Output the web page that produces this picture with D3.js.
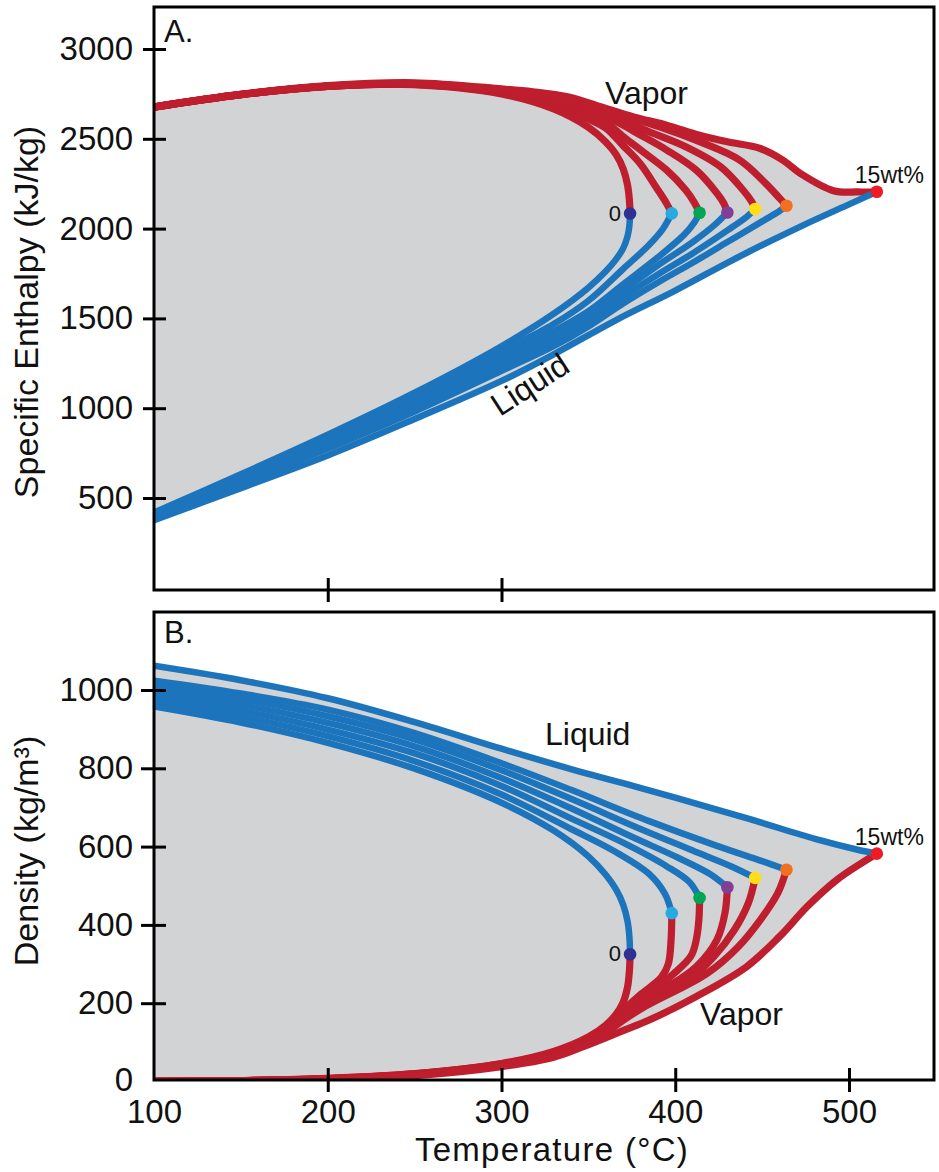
<!DOCTYPE html>
<html>
<head>
<meta charset="utf-8">
<script src="https://cdn.jsdelivr.net/npm/d3@7"></script>
<style>
  body { margin: 0; background: #fff; }
  svg text { font-family: "Liberation Sans", Arial, Helvetica, sans-serif; fill: #111; }
</style>
</head>
<body>
<script>
// isopleths, wt% salt (only 0 and 15 are labelled in the figure)
const salinity = [0, 2, 4, 6, 8, 10, 15];
const critT   = [374, 398, 414, 430, 446, 464, 516];
const critH   = [2084, 2085, 2088, 2090, 2109, 2127, 2205];
const critRho = [325, 430, 469, 496, 520, 541, 582];

// enthalpy of the liquid branch, [T degC, kJ/kg]
const hLiquid = [
  [[100,419],[150,632],[200,852],[250,1086],[300,1345],[330,1526],[350,1671],[360,1762],[366,1830],[370,1890],[372.5,1955],[373.6,2015]],
  [[100,412],[150,620],[200,835],[250,1065],[300,1315],[330,1468],[350,1598],[370,1775],[385,1910],[393,2000]],
  [[100,405],[150,609],[200,818],[250,1045],[300,1288],[330,1428],[350,1540],[370,1690],[390,1840],[405,1965],[411,2035]],
  [[100,398],[150,598],[200,802],[250,1025],[300,1262],[330,1398],[350,1505],[370,1655],[390,1795],[410,1925],[422,2015]],
  [[100,392],[150,588],[200,788],[250,1005],[300,1238],[330,1372],[350,1478],[370,1620],[390,1745],[410,1862],[430,1990],[441,2065]],
  [[100,386],[150,578],[200,775],[250,982],[300,1208],[330,1345],[350,1455],[370,1583],[390,1700],[410,1810],[430,1925],[450,2040],[460,2098]],
  [[100,376],[150,555],[200,737],[250,940],[300,1152],[330,1300],[366,1491],[400,1655],[433,1825],[472,2011],[500,2135]]
];

// enthalpy of the vapor branch
const hVapor = [
  [[100,2676],[150,2746],[200,2792],[250,2801],[300,2749],[330,2666],[350,2564],[360,2482],[366,2412],[370,2333],[372.5,2245],[373.6,2160]],
  [[100,2676],[150,2746],[200,2792],[250,2803],[300,2755],[330,2685],[350,2610],[360,2560],[370,2462],[380,2360],[389,2230],[395,2140]],
  [[100,2676],[150,2746],[200,2792],[250,2805],[300,2760],[330,2697],[350,2635],[360,2592],[370,2512],[380,2438],[395,2326],[406,2215],[411,2145]],
  [[100,2676],[150,2746],[200,2793],[250,2806],[300,2764],[330,2707],[350,2655],[365,2600],[380,2521],[395,2438],[412,2326],[424,2197],[428,2140]],
  [[100,2677],[150,2747],[200,2793],[250,2807],[300,2767],[330,2715],[350,2670],[370,2600],[385,2539],[406,2456],[426,2345],[439,2215],[444,2150]],
  [[100,2677],[150,2747],[200,2794],[250,2808],[300,2770],[330,2722],[350,2685],[370,2628],[391,2567],[414,2484],[437,2382],[452,2252],[460,2170]],
  [[100,2678],[150,2748],[200,2796],[250,2812],[300,2778],[318,2762],[338,2734],[357,2679],[376,2622],[395,2576],[414,2520],[430,2483],[449,2446],[462,2381],[472,2307],[491,2211],[505,2204]]
];

// density of the liquid branch, [T degC, kg/m3]
const rhoLiquid = [
  [[100,958],[150,917],[200,865],[250,799],[300,712],[330,641],[350,575],[360,528],[366,490],[370,452],[372.5,410],[373.6,370]],
  [[100,971],[150,932],[200,882],[250,818],[300,733],[340,645],[365,588],[385,530],[394,480]],
  [[100,984],[150,947],[200,899],[250,838],[300,755],[340,672],[370,610],[395,550],[408,510]],
  [[100,997],[150,962],[200,916],[250,856],[300,775],[340,698],[375,625],[400,575],[420,530]],
  [[100,1010],[150,977],[200,933],[250,874],[300,795],[340,722],[380,645],[410,590],[432,550]],
  [[100,1024],[150,991],[200,950],[250,890],[300,813],[340,745],[385,665],[424,602],[450,563]],
  [[100,1062],[150,1025],[200,979],[250,918],[300,850],[340,798],[370,762],[400,725],[443,670],[481,619],[505,592]]
];

// density of the vapor branch
const rhoVapor = [
  [[100,0.6],[150,2.5],[200,7.9],[250,20],[300,46],[330,77],[350,114],[360,144],[366,172],[370,202],[372.5,240],[373.6,282]],
  [[100,0.6],[150,2.4],[200,7.6],[250,19.5],[300,45],[330,75],[350,110],[365,156],[372,190],[380,222],[392,266],[396,300],[397.6,362]],
  [[100,0.55],[150,2.3],[200,7.3],[250,19],[300,44],[330,73],[350,107],[370,175],[384,222],[399,275],[409,320],[412,360],[413.6,413]],
  [[100,0.5],[150,2.2],[200,7],[250,18.5],[300,43],[330,71],[350,104],[372,180],[395,240],[412,293],[424,362],[428.6,430]],
  [[100,0.5],[150,2.1],[200,6.7],[250,18],[300,42],[330,69],[350,102],[375,180],[407,257],[422,318],[434,387],[442,455]],
  [[100,0.45],[150,2],[200,6.4],[250,17],[300,41],[330,67],[350,99],[380,185],[418,275],[436,343],[449,413],[459,481]],
  [[100,0.4],[150,1.7],[200,5.5],[250,15],[300,38],[330,62],[347,89],[370,130],[385,157],[412,217],[441,293],[460,370],[476,447],[493,515],[508,560]]
];

const xTicks = [100, 200, 300, 400, 500];
const yTicksA = [500, 1000, 1500, 2000, 2500, 3000];
const yTicksB = [0, 200, 400, 600, 800, 1000];

const dotColors = ["#2e3192", "#27aae1", "#00a651", "#7f3f98", "#ffde17", "#f37021", "#ed1c24"];
const RED = "#be1e2d", BLUE = "#1c75bc", GRAY = "#d1d3d4";

const W = 939, H = 1172;
const left = 154, right = 934;

const svg = d3.select("body").append("svg")
    .attr("width", W)
    .attr("height", H);

const x = d3.scaleLinear().domain([100, 500]).range([154, 849]);
const yA = d3.scaleLinear().domain([500, 3000]).range([498, 49]);
const yB = d3.scaleLinear().domain([0, 1000]).range([1081.5, 690]);

function drawPanel(opts) {
  const { y, top, bottom, liq, vap, crit, id, letter, letterY } = opts;

  svg.append("clipPath").attr("id", id)
    .append("rect")
    .attr("x", left).attr("y", top)
    .attr("width", right - left).attr("height", bottom - top);

  const g = svg.append("g").attr("clip-path", `url(#${id})`);

  const line = d3.line()
      .x(d => x(d[0]))
      .y(d => y(d[1]))
      .curve(d3.curveCatmullRom.alpha(0.5));

  const withCrit = (pts, i) => pts.concat([[critT[i], crit[i]]]);
  const last = salinity.length - 1;

  // gray two-phase envelope of the 15 wt% isopleth
  const upper = withCrit(vap[last], last);
  const lower = withCrit(liq[last], last).slice().reverse();
  const fillPath = line(upper) + "L" + line(lower).slice(1) + "Z";
  g.append("path")
    .attr("d", fillPath)
    .attr("fill", GRAY);

  g.selectAll(".vap")
    .data(vap)
    .enter()
    .append("path")
    .attr("d", (d, i) => line(withCrit(d, i)))
    .attr("fill", "none")
    .attr("stroke", RED)
    .attr("stroke-width", 7.2);

  g.selectAll(".liq")
    .data(liq)
    .enter()
    .append("path")
    .attr("d", (d, i) => line(withCrit(d, i)))
    .attr("fill", "none")
    .attr("stroke", BLUE)
    .attr("stroke-width", 6.5);

  svg.append("g").selectAll("circle")
    .data(salinity)
    .enter()
    .append("circle")
    .attr("cx", (d, i) => x(critT[i]))
    .attr("cy", (d, i) => y(crit[i]))
    .attr("r", 6.3)
    .attr("fill", (d, i) => dotColors[i]);

  // labels on the end members
  svg.append("text")
    .attr("x", x(critT[0]) - 9)
    .attr("y", y(crit[0]) + 7)
    .attr("text-anchor", "end")
    .attr("font-size", 22)
    .text(salinity[0]);
  svg.append("text")
    .attr("x", x(critT[last]) - 22)
    .attr("y", y(crit[last]) - 9)
    .attr("font-size", 23)
    .text(salinity[last] + "wt%");

  // frame
  svg.append("rect")
    .attr("x", left).attr("y", top)
    .attr("width", right - left).attr("height", bottom - top)
    .attr("fill", "none")
    .attr("stroke", "#000")
    .attr("stroke-width", 3);

  svg.append("text")
    .attr("x", left + 10)
    .attr("y", letterY)
    .attr("font-size", 31)
    .text(letter);
}

drawPanel({ y: yA, top: 7, bottom: 590, liq: hLiquid, vap: hVapor, crit: critH,
            id: "clipA", letter: "A.", letterY: 42 });
drawPanel({ y: yB, top: 612, bottom: 1080, liq: rhoLiquid, vap: rhoVapor, crit: critRho,
            id: "clipB", letter: "B.", letterY: 643 });

// axes
function styleAxis(g) {
  g.select(".domain").remove();
  g.selectAll(".tick line").attr("stroke", "#000").attr("stroke-width", 3);
  g.selectAll(".tick text").attr("font-size", 33).attr("fill", "#111")
    .attr("font-family", '"Liberation Sans", Arial, sans-serif');
}

const axA = svg.append("g")
    .attr("transform", `translate(${left},0)`)
    .call(d3.axisLeft(yA).tickValues(yTicksA).tickFormat(d3.format("d")).tickSize(11).tickPadding(10))
    .call(styleAxis);
axA.selectAll(".tick line").attr("x1", 12);

const axB = svg.append("g")
    .attr("transform", `translate(${left},0)`)
    .call(d3.axisLeft(yB).tickValues(yTicksB).tickFormat(d3.format("d")).tickSize(13).tickPadding(8))
    .call(styleAxis);
axB.selectAll(".tick line").attr("x1", 12).filter(d => d === 0).remove();
axB.selectAll(".tick").filter(d => d === 0).attr("transform", "translate(0,1080)");

const axX = svg.append("g")
    .attr("transform", "translate(0,1080)")
    .call(d3.axisBottom(x).tickValues(xTicks).tickFormat(d3.format("d")).tickSize(12).tickPadding(8))
    .call(styleAxis);
axX.selectAll(".tick line").attr("y1", -12).filter(d => d === 100).remove();

// panel A bottom has bare tick marks only
const axXA = svg.append("g")
    .attr("transform", "translate(0,590)")
    .call(d3.axisBottom(x).tickValues([200, 300]).tickFormat("").tickSize(12))
    .call(styleAxis);
axXA.selectAll(".tick line").attr("y1", -12);

// axis titles
svg.append("text")
    .attr("x", 552).attr("y", 1161)
    .attr("text-anchor", "middle")
    .attr("font-size", 33)
    .attr("letter-spacing", 1.3)
    .text("Temperature (°C)");

svg.append("text")
    .attr("transform", "translate(38,312) rotate(-90)")
    .attr("text-anchor", "middle")
    .attr("font-size", 34)
    .text("Specific Enthalpy (kJ/kg)");

svg.append("text")
    .attr("transform", "translate(38,851) rotate(-90)")
    .attr("text-anchor", "middle")
    .attr("font-size", 34)
    .text("Density (kg/m³)");

// phase labels
svg.append("text").attr("x", 605).attr("y", 104).attr("font-size", 32).text("Vapor");
svg.append("text").attr("transform", "translate(500,417) rotate(-33)").attr("font-size", 32).text("Liquid");
svg.append("text").attr("x", 545).attr("y", 745).attr("font-size", 32).text("Liquid");
svg.append("text").attr("x", 700).attr("y", 1025).attr("font-size", 32).text("Vapor");
</script>
</body>
</html>
